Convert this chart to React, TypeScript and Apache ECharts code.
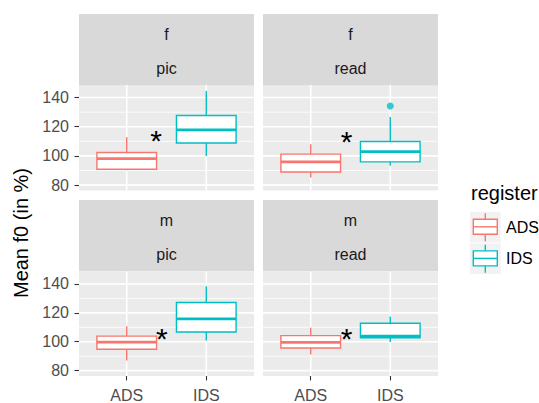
import React, { useEffect, useRef } from "react";
import * as echarts from "echarts";

const registers = ["ADS", "IDS"];
const registerColors = ["#F8766D", "#00BFC4"];
const facetSpeaker = ["f", "f", "m", "m"];
const facetTask = ["pic", "read", "pic", "read"];
// [lower whisker, Q1, median, Q3, upper whisker]
const adsStats = [
  [90.2, 90.9, 98.2, 102.3, 112.8],
  [85.2, 89.0, 95.9, 101.2, 108.0],
  [87.1, 94.8, 99.8, 103.9, 110.8],
  [91.2, 95.7, 99.6, 104.2, 109.7],
];
const idsStats = [
  [100.0, 108.9, 117.8, 127.7, 144.5],
  [93.2, 95.9, 103.0, 109.9, 126.7],
  [100.8, 106.7, 115.8, 127.2, 138.4],
  [99.8, 102.8, 103.8, 112.8, 117.4],
];
const idsOutliers = [[], [134.2], [], []];
const starX = [1.37, 1.45, 1.44, 1.45];
const starY = [115.8, 115.3, 107.4, 107.4];
const yTicks = [80, 100, 120, 140];
const yMinorTicks = [90, 110, 130];
const xPositions = [1, 2];

const FONT = "'Liberation Sans', Arial, sans-serif";
const X_MIN = 0.4;
const X_MAX = 2.6;
const Y_MIN = 76.3;
const Y_MAX = 148.6;
const HALF_W = 0.375;

const panels = [
  { left: 79, top: 85, stripTop: 14 },
  { left: 263, top: 85, stripTop: 14 },
  { left: 79, top: 271.5, stripTop: 200 },
  { left: 263, top: 271.5, stripTop: 200 },
];
const PW = 175;
const PH = 105.5;
const STRIP_H = 71.3;

export default function App() {
  const ref = useRef<HTMLDivElement>(null);
  useEffect(() => {
    if (!ref.current) return;
    const chart = echarts.init(ref.current, undefined, { renderer: "svg" });

    const grids: any[] = [];
    const xAxes: any[] = [];
    const yAxes: any[] = [];
    const series: any[] = [];
    const graphics: any[] = [];

    const gridData: number[][] = [
      ...yTicks.map((v) => [1.5, v, 0]),
      ...yMinorTicks.map((v) => [1.5, v, 1]),
      ...xPositions.map((v) => [v, 100, 2]),
    ];

    panels.forEach((p, i) => {
      const isBottom = i >= 2;
      const isLeft = i % 2 === 0;
      grids.push({
        left: p.left,
        top: p.top,
        width: PW,
        height: PH,
        show: true,
        backgroundColor: "#EBEBEB",
        borderWidth: 0,
      });
      xAxes.push({
        type: "value",
        gridIndex: i,
        min: X_MIN,
        max: X_MAX,
        axisLine: { show: false },
        splitLine: { show: false },
        axisTick: {
          show: isBottom,
          customValues: xPositions,
          length: 4.5,
          lineStyle: { color: "#333333", width: 1.1 },
        },
        axisLabel: {
          show: isBottom,
          customValues: xPositions,
          formatter: (v: number) => registers[Math.round(v) - 1] || "",
          fontSize: 16,
          color: "#4D4D4D",
          margin: 11,
          fontFamily: FONT,
        },
      });
      yAxes.push({
        type: "value",
        gridIndex: i,
        min: Y_MIN,
        max: Y_MAX,
        axisLine: { show: false },
        splitLine: { show: false },
        axisTick: {
          show: isLeft,
          customValues: yTicks,
          length: 4.5,
          lineStyle: { color: "#333333", width: 1.1 },
        },
        axisLabel: {
          show: isLeft,
          customValues: yTicks,
          fontSize: 16,
          color: "#4D4D4D",
          margin: 10,
          fontFamily: FONT,
        },
      });

      // grid lines
      series.push({
        type: "custom",
        xAxisIndex: i,
        yAxisIndex: i,
        silent: true,
        z: 1,
        data: gridData,
        renderItem: (params: any, api: any) => {
          const cs = params.coordSys;
          const kind = api.value(2);
          if (kind === 2) {
            const pt = api.coord([api.value(0), 100]);
            return {
              type: "line",
              shape: { x1: pt[0], y1: cs.y, x2: pt[0], y2: cs.y + cs.height },
              style: { stroke: "#FFFFFF", lineWidth: 1.6 },
            };
          }
          const pt = api.coord([1.5, api.value(1)]);
          return {
            type: "line",
            shape: { x1: cs.x, y1: pt[1], x2: cs.x + cs.width, y2: pt[1] },
            style: { stroke: "#FFFFFF", lineWidth: kind === 0 ? 1.6 : 0.8 },
          };
        },
      });

      // boxes
      series.push({
        type: "custom",
        xAxisIndex: i,
        yAxisIndex: i,
        silent: true,
        z: 2,
        data: [
          [1, ...adsStats[i]],
          [2, ...idsStats[i]],
        ],
        renderItem: (params: any, api: any) => {
          const x = api.value(0);
          const lo = api.value(1);
          const q1 = api.value(2);
          const med = api.value(3);
          const q3 = api.value(4);
          const hi = api.value(5);
          const c = registerColors[Math.round(x) - 1];
          const pLo = api.coord([x, lo]);
          const pQ1 = api.coord([x, q1]);
          const pQ3 = api.coord([x, q3]);
          const pHi = api.coord([x, hi]);
          const tl = api.coord([x - HALF_W, q3]);
          const br = api.coord([x + HALF_W, q1]);
          const m1 = api.coord([x - HALF_W, med]);
          const m2 = api.coord([x + HALF_W, med]);
          return {
            type: "group",
            children: [
              {
                type: "line",
                shape: { x1: pHi[0], y1: pHi[1], x2: pQ3[0], y2: pQ3[1] },
                style: { stroke: c, lineWidth: 1.4 },
              },
              {
                type: "line",
                shape: { x1: pQ1[0], y1: pQ1[1], x2: pLo[0], y2: pLo[1] },
                style: { stroke: c, lineWidth: 1.4 },
              },
              {
                type: "rect",
                shape: { x: tl[0], y: tl[1], width: br[0] - tl[0], height: br[1] - tl[1] },
                style: { fill: "#FFFFFF", stroke: c, lineWidth: 1.4 },
              },
              {
                type: "line",
                shape: { x1: m1[0], y1: m1[1], x2: m2[0], y2: m2[1] },
                style: { stroke: c, lineWidth: 2.8 },
              },
            ],
          };
        },
      });

      // outliers
      series.push({
        type: "scatter",
        xAxisIndex: i,
        yAxisIndex: i,
        silent: true,
        z: 3,
        symbol: "circle",
        symbolSize: 7,
        itemStyle: { color: registerColors[1] },
        data: idsOutliers[i].map((v) => [2, v]),
      });

      // significance star
      series.push({
        type: "custom",
        xAxisIndex: i,
        yAxisIndex: i,
        silent: true,
        z: 4,
        data: [[starX[i], starY[i]]],
        renderItem: (params: any, api: any) => {
          const pt = api.coord([api.value(0), api.value(1)]);
          const fs = 30;
          return {
            type: "text",
            x: pt[0],
            y: pt[1] + 0.25 * fs,
            style: {
              text: "*",
              fontSize: fs,
              fontFamily: FONT,
              fill: "#000000",
              align: "center",
              verticalAlign: "middle",
            },
          };
        },
      });

      // strip
      graphics.push({
        type: "rect",
        left: p.left,
        top: p.stripTop,
        shape: { x: 0, y: 0, width: PW, height: STRIP_H },
        style: { fill: "#D9D9D9" },
        silent: true,
      });
      graphics.push({
        type: "text",
        x: p.left + PW / 2,
        y: p.stripTop + 20.7,
        style: {
          text: facetSpeaker[i],
          fontSize: 16,
          fontFamily: FONT,
          fill: "#1A1A1A",
          align: "center",
          verticalAlign: "middle",
        },
        silent: true,
      });
      graphics.push({
        type: "text",
        x: p.left + PW / 2,
        y: p.stripTop + 54.8,
        style: {
          text: facetTask[i],
          fontSize: 16,
          fontFamily: FONT,
          fill: "#1A1A1A",
          align: "center",
          verticalAlign: "middle",
        },
        silent: true,
      });
    });

    // y axis title
    graphics.push({
      type: "text",
      x: 21,
      y: 233,
      rotation: Math.PI / 2,
      style: {
        text: "Mean f0 (in %)",
        fontSize: 20,
        fontFamily: FONT,
        fill: "#000000",
        align: "center",
        verticalAlign: "middle",
      },
      silent: true,
    });

    // legend
    graphics.push({
      type: "text",
      x: 471,
      y: 193,
      style: {
        text: "register",
        fontSize: 20,
        fontFamily: FONT,
        fill: "#000000",
        align: "left",
        verticalAlign: "middle",
      },
      silent: true,
    });
    registers.forEach((r, k) => {
      const top = 211.7 + k * 31.6;
      const c = registerColors[k];
      graphics.push({
        type: "rect",
        shape: { x: 470, y: top, width: 30.7, height: 30.7 },
        style: { fill: "#F2F2F2" },
        silent: true,
      });
      graphics.push({
        type: "line",
        shape: { x1: 485.3, y1: top + 1.5, x2: 485.3, y2: top + 29.5 },
        style: { stroke: c, lineWidth: 1.4 },
        silent: true,
      });
      graphics.push({
        type: "rect",
        shape: { x: 473.3, y: top + 7.6, width: 24, height: 15 },
        style: { fill: "#FFFFFF", stroke: c, lineWidth: 1.4 },
        silent: true,
      });
      graphics.push({
        type: "line",
        shape: { x1: 473.3, y1: top + 15.1, x2: 497.3, y2: top + 15.1 },
        style: { stroke: c, lineWidth: 1.4 },
        silent: true,
      });
      graphics.push({
        type: "text",
        x: 506,
        y: top + 15.5,
        style: {
          text: r,
          fontSize: 16,
          fontFamily: FONT,
          fill: "#000000",
          align: "left",
          verticalAlign: "middle",
        },
        silent: true,
      });
    });

    chart.setOption({
      animation: false,
      backgroundColor: "#FFFFFF",
      grid: grids,
      xAxis: xAxes,
      yAxis: yAxes,
      series,
      graphic: { elements: graphics },
    });
    return () => chart.dispose();
  }, []);
  return (
    <div
      ref={ref}
      style={{ position: "fixed", left: 0, top: 0, width: 539, height: 403 }}
    />
  );
}
